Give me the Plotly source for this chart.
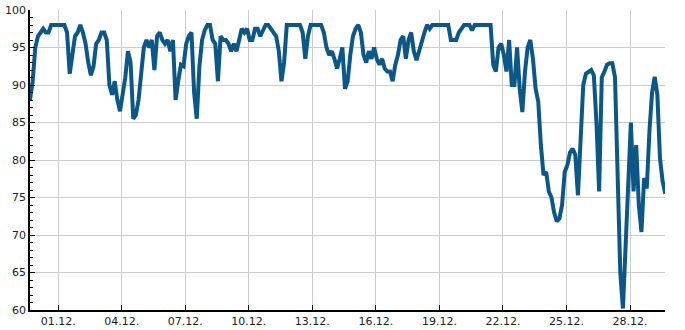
import pandas as pd
import plotly.graph_objects as go

start_time = "2023-11-29 16:00"
step = "3h"
values = [
    88, 90.5, 95, 96.5, 97, 97.5, 97, 97,
    98, 98, 98, 98, 98, 98, 97, 91.5,
    94, 96.5, 97, 98, 97, 95.5, 93, 91.3,
    92.5, 95.5, 96, 97, 97, 96, 90, 88.7,
    90.5, 88, 86.5, 89, 91, 94.5, 93, 85.5,
    86, 88, 91, 95, 96, 95, 96, 92,
    96.5, 97, 96, 95.5, 96, 94.5, 96, 88,
    90.5, 92.7, 92.5, 95.5, 96.5, 97, 89, 85.5,
    92.5, 96, 97.3, 98, 98, 96, 95.5, 90.5,
    96.5, 96, 96, 95.5, 94.5, 95.5, 94.5, 96,
    97.5, 97, 97.5, 96, 96, 97.5, 97.5, 96.5,
    97.3, 98, 98, 97.5, 97, 96.5, 94.5, 90.5,
    93, 98, 98, 98, 98, 98, 98, 97,
    93.5, 96.5, 98, 98, 98, 98, 98, 97,
    95, 94, 94.5, 93.5, 92.2, 93.5, 95, 89.5,
    90.5, 94, 96.5, 97.5, 98, 97, 94, 93,
    94.5, 93.5, 95, 93.5, 92.7, 93.5, 92.2, 91.8,
    91.8, 90.5, 92.7, 94, 96, 96.5, 93.5, 96,
    97, 94.5, 93.3, 94.5, 96, 97, 98, 97.5,
    98, 98, 98, 98, 98, 98, 98, 96,
    96, 96, 97, 97.5, 98, 98, 98, 97.3,
    98, 98, 98, 98, 98, 98, 98, 92.7,
    91.8, 95, 95.5, 94, 91.8, 96, 90, 90,
    95, 89.5, 86.4, 91.8, 95, 96, 93.5, 89.5,
    87.8, 82, 78, 78.4, 75.8, 75, 73, 71.8,
    72.2, 74, 78.4, 79.3, 81, 81.5, 80.7, 75.3,
    83.8, 90, 91.5, 91.8, 92, 91.3, 85, 75.8,
    91, 91.8, 92.7, 92.9, 92.9, 91, 78.4, 65,
    60.2, 69.5, 78.4, 85, 75.8, 82, 74, 70.4,
    77.6, 76.2, 83.8, 89, 91.1, 88.7, 80.2, 77.1,
    75.5,
]
x_range = ["2023-11-29 16:00", "2023-12-29 15:40"]
y_range = [60, 100]

times = pd.date_range(start=start_time, periods=len(values), freq=step)

fig = go.Figure()
fig.add_trace(go.Scatter(
    x=times, y=values, mode="lines",
    line=dict(color="#0b5888", width=4),
    hoverinfo="skip",
))

font = dict(family="DejaVu Sans", size=11, color="#222222")
fig.update_layout(
    width=685, height=330,
    margin=dict(l=30, r=20, t=10, b=20, autoexpand=False),
    paper_bgcolor="white", plot_bgcolor="white",
    showlegend=False,
    font=font,
)
fig.update_xaxes(
    type="date", range=x_range, automargin=False,
    tick0="2023-12-01", dtick=3 * 86400000, tickformat="%d.%m.",
    showgrid=True, gridcolor="#cccccc", gridwidth=1,
    showline=True, linecolor="black", linewidth=1.5,
    ticks="inside", ticklen=5, tickcolor="black",
    zeroline=False, tickfont=font,
)
fig.update_yaxes(
    range=y_range, dtick=5, tick0=60, automargin=False,
    showgrid=True, gridcolor="#cccccc", gridwidth=1,
    showline=True, linecolor="black", linewidth=1.5,
    ticks="inside", ticklen=5, tickcolor="black",
    minor=dict(dtick=1, ticks="inside", ticklen=3, tickcolor="black", showgrid=False),
    zeroline=False, tickfont=font,
)

fig.write_html("out.html")
